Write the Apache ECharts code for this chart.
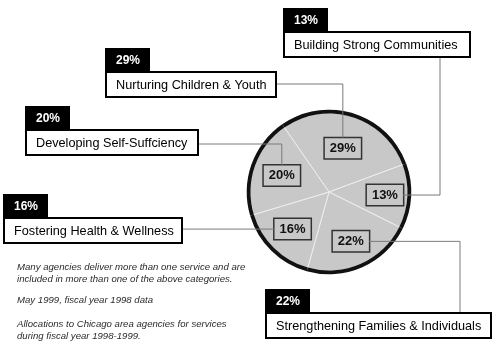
<!DOCTYPE html>
<html>
<head>
<meta charset="utf-8">
<script src="https://cdn.jsdelivr.net/npm/echarts@6/dist/echarts.min.js"></script>
<style>
  html, body { margin: 0; padding: 0; background: #fff; }
  #chart { width: 500px; height: 343px; }
</style>
</head>
<body>
<div id="chart"></div>
<script>
// Service areas and their share of allocations (percent)
const categories = [
  'Nurturing Children & Youth',
  'Building Strong Communities',
  'Strengthening Families & Individuals',
  'Fostering Health & Wellness',
  'Developing Self-Suffciency'
];
const shares = [29, 13, 22, 16, 20];
const notes = [
  'Many agencies deliver more than one service and are',
  'included in more than one of the above categories.',
  'May 1999, fiscal year 1998 data',
  'Allocations to Chicago area agencies for services',
  'during fiscal year 1998-1999.'
];

// Layout
const CX = 329, CY = 192, R = 79;
const START = 124.7;
const calloutR = [46, 56, 54, 52, 50];          // radius of each value tag
const boxes = [                                  // outer name boxes
  { x: 105, y: 72,  w: 172 },
  { x: 283, y: 32,  w: 188 },
  { x: 265, y: 313, w: 227 },
  { x: 3,   y: 218, w: 180 },
  { x: 25,  y: 130, w: 174 }
];
const noteY = [267, 279, 300, 324, 336];
const TAG_W = 36, TAG_H = 21, BOX_H = 26, TAB_W = 45, TAB_H = 24;

const total = shares.reduce((a, b) => a + b, 0);
function tagCenter(i) {
  let before = 0;
  for (let j = 0; j < i; j++) before += shares[j];
  const a = (START - (before + shares[i] / 2) / total * 360) * Math.PI / 180;
  return [CX + calloutR[i] * Math.cos(a), CY - calloutR[i] * Math.sin(a)];
}
const tags = shares.map((_, i) => tagCenter(i));

// Leader routes from each value tag to its name box
function route(i) {
  const [x, y] = tags[i];
  const b = boxes[i];
  switch (i) {
    case 0: return [[x, y - TAG_H / 2], [x, b.y + 12], [b.x + b.w, b.y + 12]];
    case 1: return [[x + TAG_W / 2, y], [440, y], [440, b.y + BOX_H]];
    case 2: return [[x + TAG_W / 2, y], [460, y], [460, b.y]];
    case 3: return [[x - TAG_W / 2, y], [b.x + b.w, y]];
    case 4: return [[x, y - TAG_H / 2], [x, b.y + 14], [b.x + b.w, b.y + 14]];
  }
}

const graphics = [];
categories.forEach((name, i) => {
  const b = boxes[i];
  graphics.push({
    type: 'polyline', z: 10, silent: true,
    shape: { points: route(i) },
    style: { stroke: '#7a7a7a', lineWidth: 1, fill: null }
  });
  graphics.push({
    type: 'rect', z: 11, silent: true,
    shape: { x: b.x, y: b.y - TAB_H, width: TAB_W, height: TAB_H },
    style: { fill: '#000' }
  });
  graphics.push({
    type: 'rect', z: 11, silent: true,
    shape: { x: b.x + 1, y: b.y, width: b.w - 2, height: BOX_H - 1 },
    style: { fill: '#fff', stroke: '#000', lineWidth: 2 }
  });
  graphics.push({
    type: 'text', z: 12, silent: true,
    x: b.x + 11, y: b.y - TAB_H / 2 + 1,
    style: {
      text: shares[i] + '%', fill: '#fff',
      font: 'bold 12px "Liberation Sans", Arial, sans-serif',
      verticalAlign: 'middle'
    }
  });
  graphics.push({
    type: 'text', z: 12, silent: true,
    x: b.x + 11, y: b.y + BOX_H / 2,
    style: {
      text: name, fill: '#000',
      font: '12.7px "Liberation Sans", Arial, sans-serif',
      verticalAlign: 'middle'
    }
  });
});
notes.forEach((t, i) => {
  graphics.push({
    type: 'text', silent: true,
    x: 17, y: noteY[i],
    style: {
      text: t, fill: '#2a2a2a',
      font: 'italic 9.6px "Liberation Sans", Arial, sans-serif',
      verticalAlign: 'middle'
    }
  });
});

const pieData = categories.map((name, i) => ({ name, value: shares[i] }));

const chart = echarts.init(document.getElementById('chart'), null, { renderer: 'canvas' });
chart.setOption({
  animation: false,
  backgroundColor: '#fff',
  series: [
    {
      type: 'pie',
      z: 2,
      center: [CX, CY],
      radius: [0, R],
      startAngle: START,
      clockwise: true,
      silent: true,
      avoidLabelOverlap: false,
      itemStyle: { color: '#c8c8c8', borderColor: '#eeeeee', borderWidth: 1 },
      label: {
        show: true,
        position: 'inside',
        formatter: p => p.value + '%',
        color: '#111',
        fontFamily: '"Liberation Sans", Arial, sans-serif',
        fontWeight: 'bold',
        fontSize: 13,
        backgroundColor: '#c8c8c8',
        borderColor: '#333',
        borderWidth: 1.5,
        width: 28,
        overflow: 'none',
        lineHeight: 15,
        align: 'center',
        verticalAlign: 'middle',
        padding: [3, 4, 2, 4]
      },
      labelLine: { show: false },
      labelLayout: p => ({ x: tags[p.dataIndex][0], y: tags[p.dataIndex][1] }),
      data: pieData
    },
    {
      // dark rim
      type: 'pie',
      z: 3,
      center: [CX, CY],
      radius: [R - 0.5, R + 3.3],
      startAngle: START,
      clockwise: true,
      silent: true,
      itemStyle: { color: '#111', borderWidth: 0 },
      label: { show: false },
      labelLine: { show: false },
      data: pieData
    }
  ],
  graphic: graphics
});
</script>
</body>
</html>
